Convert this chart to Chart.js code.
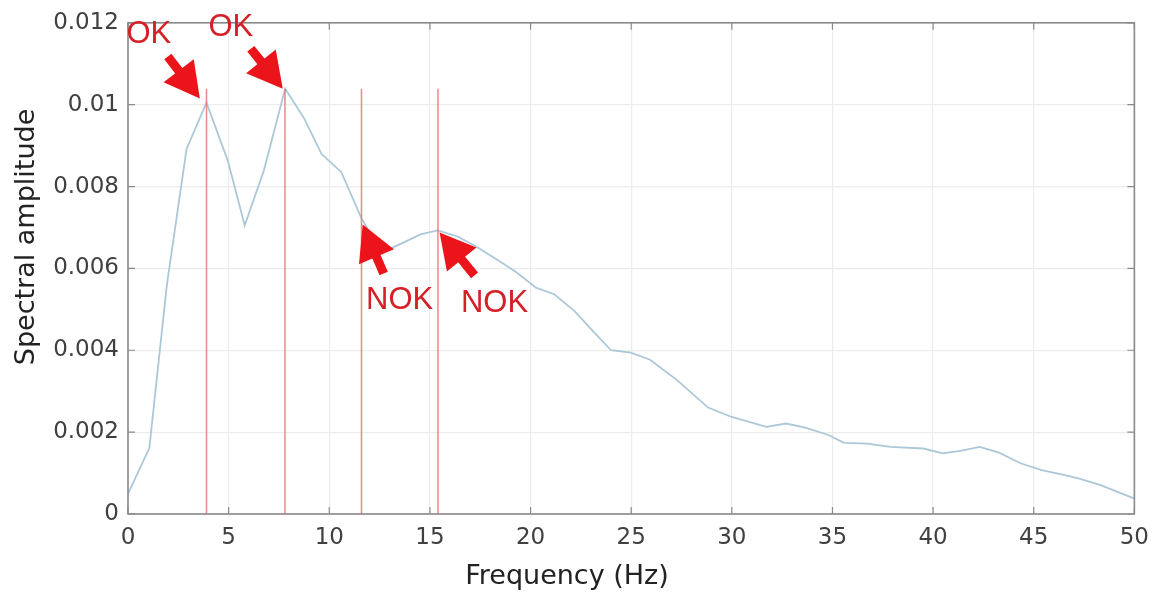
<!DOCTYPE html>
<html>
<head>
<meta charset="utf-8">
<title>Spectral amplitude</title>
<script src="https://cdn.jsdelivr.net/npm/chart.js"></script>
<style>
  html, body { margin: 0; padding: 0; background: #fff; }
  #wrap { width: 1159px; height: 594px; position: relative; }
</style>
</head>
<body>
<div id="wrap"><canvas id="spectrum"></canvas></div>
<script>
// spectrum
const freqHz = [0, 1.06, 1.93, 2.91, 3.9, 4.96, 5.8, 6.75, 7.81, 8.76, 9.61, 10.6, 11.6, 12.6,
  13.6, 14.53, 15.39, 16.37, 17.21, 18.25, 19.28, 20.27, 21.18, 22.2, 23.1, 24.0, 24.98, 25.94,
  27.28, 28.82, 29.99, 31.72, 32.69, 33.65, 34.8, 35.57, 36.73, 37.88, 39.52, 40.48, 41.35,
  42.31, 43.28, 44.34, 45.39, 46.55, 47.22, 48.29, 49.98];
const amplitude = [0.00049, 0.00161, 0.00559, 0.00892, 0.01005, 0.00863, 0.00705, 0.00839,
  0.01039, 0.00966, 0.0088, 0.00835, 0.00722, 0.00639, 0.00661, 0.00683, 0.00693, 0.00678,
  0.00656, 0.00624, 0.00591, 0.00553, 0.00537, 0.00495, 0.00447, 0.0040, 0.00394, 0.00377,
  0.00327, 0.0026, 0.00237, 0.00213, 0.00221, 0.00211, 0.00193, 0.00174, 0.00172, 0.00164,
  0.0016, 0.00148, 0.00154, 0.00164, 0.0015, 0.00124, 0.00107, 0.00095, 0.00087, 0.00071,
  0.00038];

// red marker lines
const markerFreq = [3.9, 7.8, 11.6, 15.4];
const markerTop = 0.01039;

// arrows and their labels
const arrowLabels = ['OK', 'OK', 'NOK', 'NOK'];
const arrowTipX = [3.57, 7.69, 11.66, 15.48];
const arrowTipY = [0.01015, 0.01039, 0.00707, 0.00688];

const xTicks = [0, 5, 10, 15, 20, 25, 30, 35, 40, 45, 50];
const yTicks = [0, 0.002, 0.004, 0.006, 0.008, 0.01, 0.012];

const xTitle = 'Frequency (Hz)';
const yTitle = 'Spectral amplitude';

const RED = 'rgb(234,20,26)';
const TICK_FONT = { family: '"DejaVu Sans", sans-serif', size: 23 };

// pixel geometry of each arrow relative to its tip: tail offset and label offset
const arrowGeom = [
  { tail: [-32, -42], label: [-51, -64] },
  { tail: [-32, -40], label: [-52, -61] },
  { tail: [21, 49], label: [37, 76] },
  { tail: [35, 43], label: [55, 71] }
];

const frame = {
  id: 'frame',
  afterDatasetsDraw(chart) {
    const { ctx, chartArea: a, scales } = chart;
    ctx.save();
    // inward tick marks
    ctx.strokeStyle = '#8a8a8a';
    ctx.lineWidth = 1.2;
    ctx.beginPath();
    xTicks.forEach(v => {
      const px = scales.x.getPixelForValue(v);
      ctx.moveTo(px, a.bottom); ctx.lineTo(px, a.bottom - 7);
      ctx.moveTo(px, a.top); ctx.lineTo(px, a.top + 7);
    });
    yTicks.forEach(v => {
      const py = scales.y.getPixelForValue(v);
      ctx.moveTo(a.left, py); ctx.lineTo(a.left + 7, py);
      ctx.moveTo(a.right, py); ctx.lineTo(a.right - 7, py);
    });
    ctx.stroke();
    ctx.lineWidth = 1.6;
    ctx.strokeRect(a.left, a.top, a.right - a.left, a.bottom - a.top);

    // arrows
    arrowTipX.forEach((fx, i) => {
      const tx = scales.x.getPixelForValue(fx);
      const ty = scales.y.getPixelForValue(arrowTipY[i]);
      const g = arrowGeom[i];
      const sx = tx + g.tail[0], sy = ty + g.tail[1];
      const len = Math.hypot(g.tail[0], g.tail[1]);
      const ux = -g.tail[0] / len, uy = -g.tail[1] / len;
      const headLen = 35, headHalf = 19;
      const bx = tx - ux * headLen, by = ty - uy * headLen;
      ctx.strokeStyle = RED;
      ctx.lineWidth = 9;
      ctx.lineCap = 'butt';
      ctx.beginPath();
      ctx.moveTo(sx, sy);
      ctx.lineTo(bx + ux * 2, by + uy * 2);
      ctx.stroke();
      ctx.fillStyle = RED;
      ctx.beginPath();
      ctx.moveTo(tx, ty);
      ctx.lineTo(bx - uy * headHalf, by + ux * headHalf);
      ctx.lineTo(bx + uy * headHalf, by - ux * headHalf);
      ctx.closePath();
      ctx.fill();

      ctx.fillStyle = 'rgb(214,32,40)';
      ctx.font = '31px "Liberation Sans", Arial, sans-serif';
      ctx.textAlign = 'center';
      ctx.textBaseline = 'middle';
      ctx.fillText(arrowLabels[i], tx + g.label[0], ty + g.label[1]);
    });
    ctx.restore();
  },
  afterDraw(chart) {
    // axis titles, placed as in the source figure
    const ctx = chart.ctx;
    ctx.save();
    ctx.fillStyle = '#222';
    ctx.textAlign = 'center';
    ctx.textBaseline = 'middle';
    ctx.font = '27px "DejaVu Sans", sans-serif';
    ctx.fillText(xTitle, 567, 577);
    ctx.translate(27, 237);
    ctx.rotate(-Math.PI / 2);
    ctx.font = '27px "DejaVu Sans", sans-serif';
    ctx.fillText(yTitle, 0, 0);
    ctx.restore();
  }
};

const datasets = markerFreq.map(f => ({
  data: [{ x: f, y: 0 }, { x: f, y: markerTop }],
  borderColor: 'rgba(230,115,115,0.85)',
  borderWidth: 1.5,
  pointRadius: 0
}));
datasets.push({
  data: freqHz.map((f, i) => ({ x: f, y: amplitude[i] })),
  borderColor: 'rgb(172,200,216)',
  borderWidth: 1.8,
  pointRadius: 0,
  tension: 0
});

new Chart(document.getElementById('spectrum'), {
  type: 'line',
  data: { datasets },
  options: {
    responsive: true,
    maintainAspectRatio: false,
    animation: false,
    layout: { padding: { top: 22, right: 23, left: 0, bottom: 0 } },
    plugins: { legend: { display: false }, tooltip: { enabled: false } },
    scales: {
      x: {
        type: 'linear',
        min: 0, max: 50,
        afterFit: s => { s.height = 80; },
        afterBuildTicks: s => { s.ticks = xTicks.map(v => ({ value: v })); },
        grid: { color: '#ececec', lineWidth: 1.2, drawTicks: false },
        border: { display: false },
        ticks: { color: '#404040', font: TICK_FONT, padding: 10, maxRotation: 0 }
      },
      y: {
        min: 0, max: 0.012,
        afterFit: s => { s.width = 128; },
        afterBuildTicks: s => { s.ticks = yTicks.map(v => ({ value: v })); },
        grid: { color: '#ececec', lineWidth: 1.2, drawTicks: false },
        border: { display: false },
        ticks: {
          color: '#404040', font: TICK_FONT, padding: 9,
          callback: v => String(+v.toFixed(3))
        }
      }
    }
  },
  plugins: [frame]
});
</script>
</body>
</html>
